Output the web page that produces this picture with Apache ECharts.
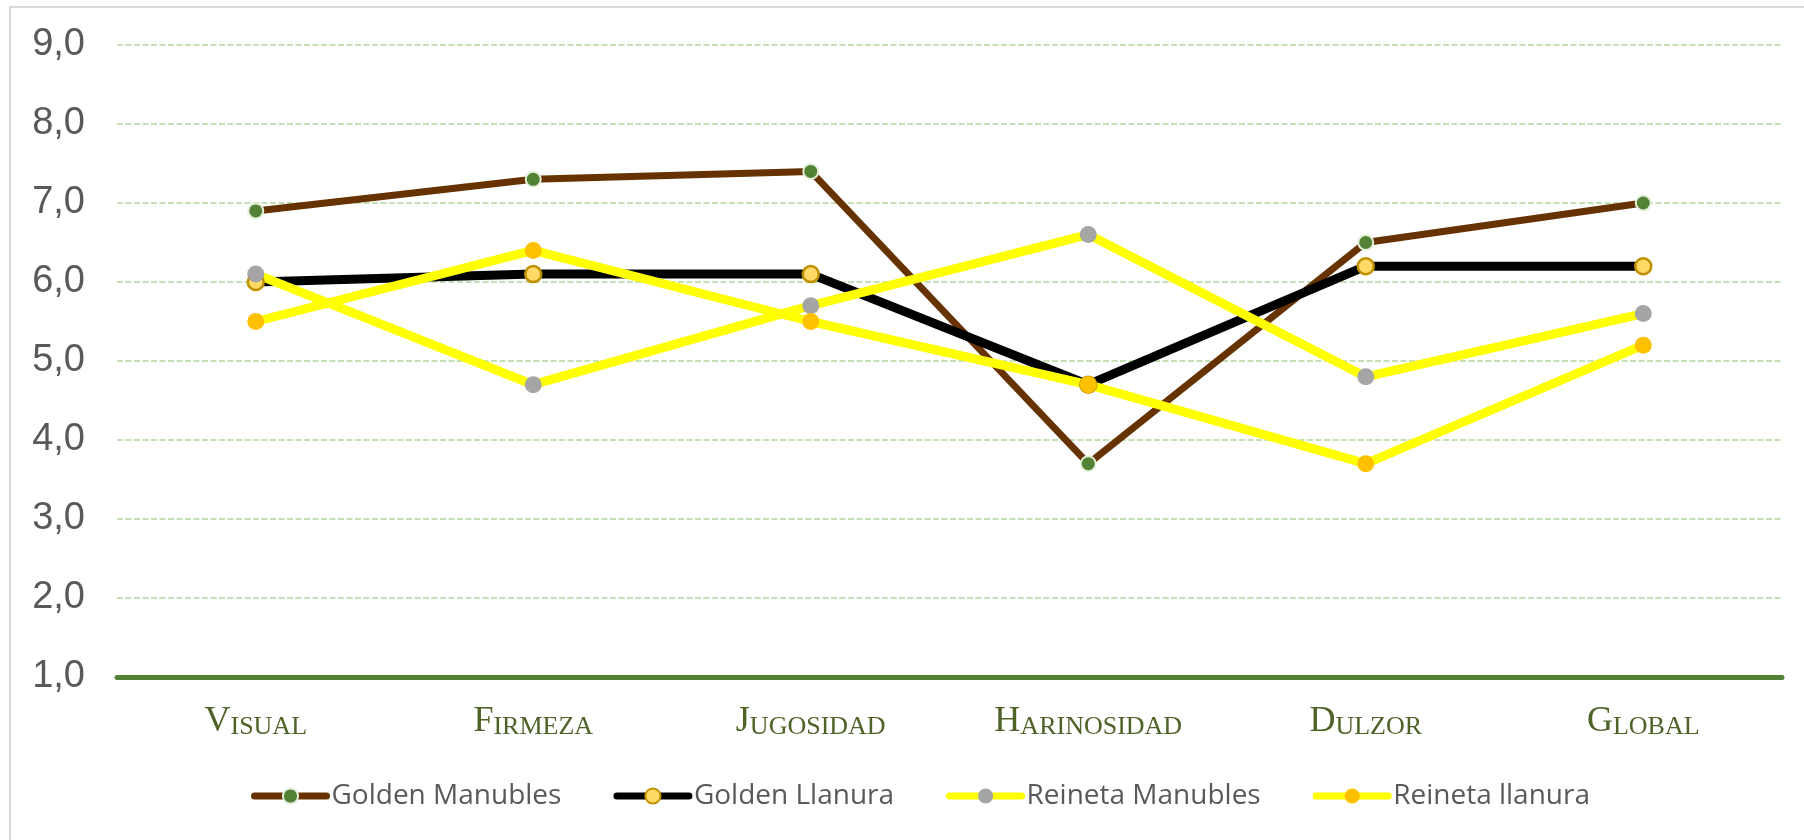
<!DOCTYPE html>
<html>
<head>
<meta charset="utf-8">
<title>Evaluación sensorial</title>
<script src="https://cdn.jsdelivr.net/npm/echarts@6/dist/echarts.min.js"></script>
<style>
  html, body { margin: 0; padding: 0; background: #fff; }
  #main { width: 1804px; height: 840px; }
</style>
</head>
<body>
<div id="main"></div>
<script>
// atributos evaluados (eje x)
var categorias = ['Visual', 'Firmeza', 'Jugosidad', 'Harinosidad', 'Dulzor', 'Global'];

// puntuaciones
var goldenManubles = [6.9, 7.3, 7.4, 3.7, 6.5, 7.0];
var goldenLlanura = [6.0, 6.1, 6.1, 4.7, 6.2, 6.2];
var reinetaManubles = [6.1, 4.7, 5.7, 6.6, 4.8, 5.6];
var reinetaLlanura = [5.5, 6.4, 5.5, 4.7, 3.7, 5.2];

// eje y
var yMin = 1, yMax = 9, yPaso = 1;

var myChart = echarts.init(document.getElementById('main'));

function linea(nombre, datos, colorLinea, ancho, colorPunto, borde, tam, anchoBorde) {
    return {
        name: nombre,
        type: 'line',
        data: datos,
        symbol: 'circle',
        symbolSize: tam,
        showAllSymbol: true,
        lineStyle: { color: colorLinea, width: ancho, cap: 'round' },
        itemStyle: { color: colorPunto, borderColor: borde, borderWidth: anchoBorde },
        emphasis: { disabled: true }
    };
}

var option = {
    backgroundColor: '#ffffff',
    animation: false,
    graphic: [{
        type: 'rect',
        shape: { x: 10, y: 7, width: 1820, height: 860 },
        style: { fill: 'none', stroke: '#d9d9d9', lineWidth: 2 },
        silent: true
    }],
    grid: {
        left: 117,
        right: 22,
        top: 45,
        bottom: 163,
        outerBoundsMode: 'none'
    },
    legend: {
        left: 246,
        top: 777,
        itemWidth: 72,
        itemHeight: 19,
        itemGap: 52,
        lineStyle: { width: 7, cap: 'round' },
        textStyle: { color: '#595959', fontSize: 28, fontFamily: 'Open Sans' },
        data: ['Golden Manubles', 'Golden Llanura', 'Reineta Manubles', 'Reineta llanura']
    },
    xAxis: {
        type: 'category',
        boundaryGap: true,
        data: categorias,
        axisTick: { show: false },
        axisLine: { lineStyle: { color: '#548235', width: 5 } },
        axisLabel: {
            margin: 27,
            formatter: function (v) {
                return '{a|' + v.charAt(0).toUpperCase() + '}{b|' + v.slice(1).toUpperCase() + '}';
            },
            rich: {
                a: { fontSize: 36, lineHeight: 36, fontFamily: 'Liberation Serif', color: '#4f6228', verticalAlign: 'bottom' },
                b: { fontSize: 26, lineHeight: 30, fontFamily: 'Liberation Serif', color: '#4f6228', verticalAlign: 'bottom' }
            }
        }
    },
    yAxis: {
        type: 'value',
        min: yMin,
        max: yMax,
        interval: yPaso,
        axisLine: { show: false },
        axisTick: { show: false },
        axisLabel: {
            margin: 32,
            fontSize: 38,
            fontFamily: 'Liberation Sans',
            color: '#595959',
            formatter: function (v) { return v.toFixed(1).replace('.', ','); }
        },
        splitLine: {
            lineStyle: { color: '#c5e0b4', width: 2, type: [6, 2.5] }
        }
    },
    series: [
        linea('Golden Manubles', goldenManubles, '#663300', 7, '#548235', '#e2f0d9', 15, 2),
        linea('Golden Llanura', goldenLlanura, '#000000', 9, '#ffd966', '#bf9000', 16, 2.5),
        linea('Reineta Manubles', reinetaManubles, '#ffff00', 9, '#a5a5a5', '#a5a5a5', 17, 0),
        linea('Reineta llanura', reinetaLlanura, '#ffff00', 9, '#ffc000', '#ffc000', 17, 0)
    ]
};

myChart.setOption(option);
</script>
</body>
</html>
